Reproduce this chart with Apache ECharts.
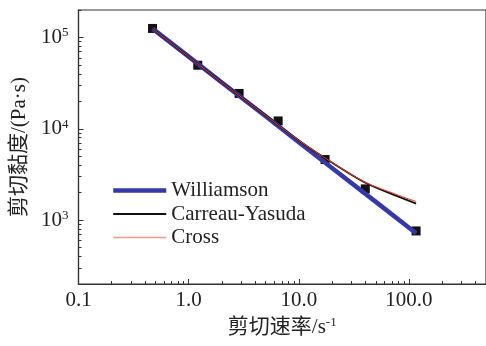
<!DOCTYPE html>
<html><head><meta charset="utf-8">
<script src="https://cdn.jsdelivr.net/npm/echarts@6/dist/echarts.min.js"></script>
<style>html,body{margin:0;padding:0;background:#fff}#c{width:486px;height:346px}</style>
</head><body><div id="c"></div>
<script>
// Experimental data (shear rate, viscosity)
const expRate = [0.47, 1.21, 2.87, 6.49, 17.3, 40.1, 116];
const expVisc = [125600, 49700, 24400, 12200, 4610, 2200, 762];
// Fitted curves
const willRate = [0.47, 1, 2, 5, 10, 20, 50, 116];
const williamson = [125000, 61700, 32200, 13700, 7140, 3730, 1585, 720];
const fitRate = [0.47, 1, 2, 5, 10, 17, 39, 78, 116];
const carreau = [125000, 61500, 32300, 14000, 7450, 4850, 2620, 1830, 1520];
const cross = [125000, 61500, 32300, 14000, 7450, 4870, 2640, 1900, 1600];
// Axis ticks
const xMajor = [0.1, 1, 10, 100];
const xMinor = [0.2,0.3,0.4,0.5,0.6,0.7,0.8,0.9,2,3,4,5,6,7,8,9,20,30,40,50,60,70,80,90,200,300,400,500];
const yMajor = [1000, 10000, 100000];
const yMinor = [200,300,400,500,600,700,800,900,2000,3000,4000,5000,6000,7000,8000,9000,20000,30000,40000,50000,60000,70000,80000,90000,200000];
const xLabels = {0.1:'0.1', 1:'1.0', 10:'10.0', 100:'100.0'};

const pair = (xs, ys) => xs.map((x, i) => [x, ys[i]]);
const serif = '"Liberation Serif","Noto Sans CJK SC",serif';
const axisColor = '#333';
const blue = '#3539a8', red = '#e63a2a';
const ch = echarts.init(document.getElementById('c'));
const xBase = {type:'log', logBase:10, min:0.1, max:500, gridIndex:0};
const yBase = {type:'log', logBase:10, min:200, max:200000, gridIndex:0};
ch.setOption({
  animation:false,
  grid:{left:78.5, top:10, right:-4, bottom:62, show:true, borderColor:axisColor, borderWidth:1.2, containLabel:false},
  legend:{
    data:[
      {name:'Williamson', lineStyle:{color:blue, width:4.5}},
      {name:'Carreau-Yasuda', lineStyle:{color:'#111', width:1.8}},
      {name:'Cross', lineStyle:{color:'#f29a86', width:1.5}}
    ],
    itemStyle:{opacity:0},
    orient:'vertical', left:111, top:180, padding:0, itemWidth:53, itemHeight:14, itemGap:2.5,
    textStyle:{fontFamily:serif, fontSize:21, color:'#222'}
  },
  xAxis:[
    Object.assign({}, xBase, {
      position:'bottom',
      axisLine:{show:true, lineStyle:{color:axisColor, width:1.2}},
      axisTick:{show:true, inside:true, length:5, customValues:xMajor, lineStyle:{color:axisColor}},
      axisLabel:{customValues:xMajor, formatter:v => xLabels[v] || String(v), fontFamily:serif, fontSize:21, color:'#222', margin:6},
      splitLine:{show:false},
      name:'剪切速率/s{sup|-1}', nameLocation:'middle', nameGap:32,
      nameTextStyle:{fontFamily:serif, fontSize:21, color:'#222', rich:{sup:{fontFamily:serif, fontSize:13, verticalAlign:'top', padding:[0,0,9,0], color:'#222'}}}
    }),
    Object.assign({}, xBase, {
      position:'bottom',
      axisLine:{show:false},
      axisTick:{show:true, inside:true, length:3, customValues:xMinor, lineStyle:{color:axisColor}},
      axisLabel:{show:false},
      splitLine:{show:false}
    })
  ],
  yAxis:[
    Object.assign({}, yBase, {
      position:'left',
      axisLine:{show:true, lineStyle:{color:axisColor, width:1.2}},
      axisTick:{show:true, inside:true, length:5, customValues:yMajor, lineStyle:{color:axisColor}},
      axisLabel:{customValues:yMajor, margin:10,
        formatter:v => '10{sup|' + Math.round(Math.log10(v)) + '}',
        fontFamily:serif, fontSize:21, color:'#222',
        rich:{sup:{fontFamily:serif, fontSize:13, color:'#222', verticalAlign:'top', padding:[0,0,9,0]}}},
      splitLine:{show:false},
      name:'剪切黏度/(Pa·s)', nameLocation:'middle', nameGap:38, nameRotate:90,
      nameTextStyle:{fontFamily:serif, fontSize:21, color:'#222'}
    }),
    Object.assign({}, yBase, {
      position:'left',
      axisLine:{show:false},
      axisTick:{show:true, inside:true, length:3, customValues:yMinor, lineStyle:{color:axisColor}},
      axisLabel:{show:false},
      splitLine:{show:false}
    })
  ],
  series:[
    {name:'Williamson', type:'line', data:pair(willRate, williamson), showSymbol:false, symbol:'none',
      lineStyle:{color:blue, width:4.5}, itemStyle:{color:blue}, z:2},
    {name:'Carreau-Yasuda', type:'line', data:pair(fitRate, carreau), showSymbol:false, symbol:'none', smooth:0.3,
      lineStyle:{color:'#111', width:1.8}, itemStyle:{color:'#111'}, z:3},
    {name:'Cross', type:'line', data:pair(fitRate, cross), showSymbol:false, symbol:'none', smooth:0.3,
      lineStyle:{color:red, width:1}, itemStyle:{color:red}, z:4},
    {name:'exp', type:'scatter', data:pair(expRate, expVisc), symbol:'rect', symbolSize:9,
      itemStyle:{color:'#111', opacity:1}, z:1}
  ]
});
</script></body></html>
